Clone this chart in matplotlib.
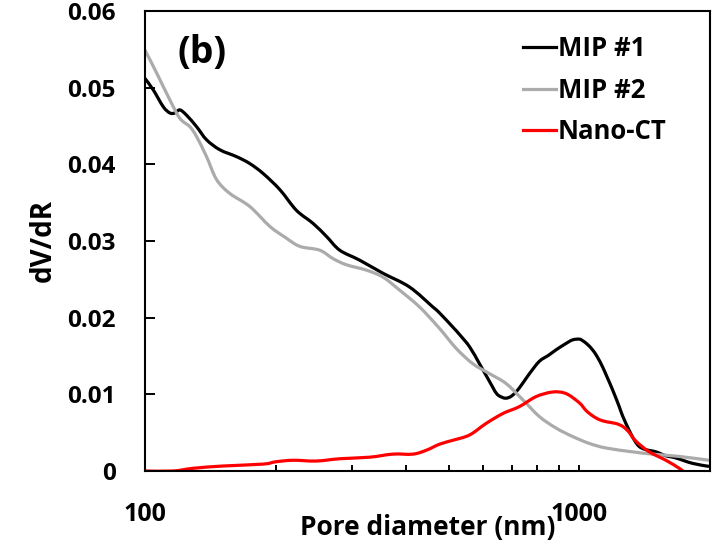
import matplotlib
matplotlib.use("Agg")
import numpy as np
import matplotlib.pyplot as plt
from matplotlib.path import Path
from matplotlib.patches import PathPatch
from matplotlib.lines import Line2D
from matplotlib.ticker import FixedLocator, NullFormatter, FixedFormatter

plt.rcParams["font.family"] = ["Open Sans", "DejaVu Sans"]
plt.rcParams["font.weight"] = "bold"

# Pore size distributions (pore diameter in nm, dV/dR)
mip1_d = [100, 104.5, 110.2, 114.1, 117.2, 120.3, 124.7, 131.5, 138.6, 148.7,
          162.5, 174.3, 187.1, 204.4, 223.2, 243.7, 261.7, 280.8, 312.1, 352.9,
          406.5, 460, 477, 511, 530, 559, 589, 621, 645, 665, 679, 695, 715,
          740, 768, 809, 850, 884, 930, 965, 1000, 1018, 1045, 1073, 1100,
          1131, 1160, 1193, 1236, 1258, 1303, 1340, 1374, 1420, 1501, 1580,
          1669, 1822, 1990]
mip1_v = [0.0512, 0.0497, 0.0475, 0.0467, 0.0467, 0.0471, 0.0464, 0.0449, 0.0432, 0.0419,
          0.0410, 0.0401, 0.0388, 0.0367, 0.0340, 0.0323, 0.0306, 0.0288, 0.0275, 0.0258,
          0.0240, 0.0214, 0.0206, 0.0188, 0.0178, 0.0162, 0.0140, 0.0117, 0.0101, 0.0096,
          0.0095, 0.0097, 0.0103, 0.0114, 0.0127, 0.0143, 0.0151, 0.0158, 0.0166, 0.0171,
          0.0172, 0.0170, 0.0165, 0.0158, 0.0149, 0.0136, 0.0122, 0.0106, 0.0084, 0.0072,
          0.0053, 0.0040, 0.0032, 0.0028, 0.0025, 0.0020, 0.0017, 0.0010, 0.0006]

mip2_d = [100, 106.4, 114.1, 120.3, 126.9, 131.5, 138.6, 146.2, 156.8, 174.3,
          193.9, 210, 227.2, 252.6, 271, 290.9, 323.4, 352.9, 385.6, 428.6,
          476.6, 520.6, 568.5, 621.2, 678.7, 741, 809.3, 884.1, 965.2, 1054,
          1152, 1326, 1474, 1699, 1990]
mip2_v = [0.0549, 0.0519, 0.0484, 0.0460, 0.0449, 0.0436, 0.0410, 0.0380, 0.0362, 0.0345,
          0.0319, 0.0305, 0.0293, 0.0288, 0.0277, 0.0269, 0.0262, 0.0253, 0.0236, 0.0214,
          0.0186, 0.0160, 0.0140, 0.0127, 0.0114, 0.0093, 0.0071, 0.0056, 0.0045, 0.0036,
          0.0030, 0.0025, 0.0022, 0.0019, 0.0014]

nct_d = [100, 116, 129, 151, 187, 200, 219, 248, 281, 329, 372, 414, 444, 477,
         511, 559, 610, 667, 728, 795, 868, 932, 1000, 1036, 1073, 1112, 1160,
         1214, 1260, 1300, 1350, 1449, 1583, 1699, 1760]
nct_v = [0.0, 0.0, 0.00035, 0.00065, 0.0009, 0.0012, 0.0014, 0.0013, 0.0016, 0.0018,
         0.0022, 0.0022, 0.0027, 0.0035, 0.0040, 0.0047, 0.0062, 0.0075, 0.0084, 0.0097,
         0.0103, 0.0101, 0.0089, 0.0079, 0.0072, 0.0067, 0.0064, 0.0062, 0.0058, 0.0051,
         0.0039, 0.0025, 0.0014, 0.00035, -0.0003]

series = [
    ("MIP #1", mip1_d, mip1_v, "#000000"),
    ("MIP #2", mip2_d, mip2_v, "#ABABAB"),
    ("Nano-CT", nct_d, nct_v, "#FF0000"),
]

y_ticks = [0, 0.01, 0.02, 0.03, 0.04, 0.05, 0.06]
y_labels = ["0", "0.01", "0.02", "0.03", "0.04", "0.05", "0.06"]
x_major = [100, 1000]
x_minor = [200, 300, 400, 500, 600, 700, 800, 900, 2000]


def smooth_path(d, v):
    """Catmull-Rom style cubic Bezier through the points, built in log-x space."""
    u = np.log10(np.asarray(d, float))
    w = np.asarray(v, float)
    pts = np.column_stack([u, w])
    ext = np.vstack([pts[0], pts, pts[-1]])
    verts = [pts[0]]
    codes = [Path.MOVETO]
    for i in range(len(pts) - 1):
        p0, p1, p2, p3 = ext[i], ext[i + 1], ext[i + 2], ext[i + 3]
        c1 = p1 + (p2 - p0) / 6.0
        c2 = p2 - (p3 - p1) / 6.0
        verts += [c1, c2, p2]
        codes += [Path.CURVE4] * 3
    verts = np.array(verts)
    verts[:, 0] = 10 ** verts[:, 0]
    return Path(verts, codes)


fig = plt.figure(figsize=(7.23, 5.42), dpi=100)
ax = fig.add_axes([145 / 723, 1 - 471 / 542, 565 / 723, 460 / 542])
ax.set_xscale("log")
ax.set_xlim(100, 2000)
ax.set_ylim(0, 0.06)

handles = []
for name, d, v, c in series:
    ax.add_patch(PathPatch(smooth_path(d, v), facecolor="none", edgecolor=c,
                           lw=2.3, joinstyle="round", capstyle="butt"))
    handles.append(Line2D([], [], color=c, lw=2.3, label=name))

ax.xaxis.set_major_locator(FixedLocator(x_major))
ax.xaxis.set_major_formatter(FixedFormatter([str(t) for t in x_major]))
ax.xaxis.set_minor_locator(FixedLocator(x_minor))
ax.xaxis.set_minor_formatter(NullFormatter())
ax.yaxis.set_major_locator(FixedLocator(y_ticks))
ax.yaxis.set_major_formatter(FixedFormatter(y_labels))

ax.tick_params(axis="y", which="major", direction="in", length=7, width=1.4,
               labelsize=17.5, pad=21, colors="black")
ax.tick_params(axis="x", which="both", direction="in", length=4.3, width=1.4,
               labelsize=18, pad=22)

for s in ax.spines.values():
    s.set_linewidth(1.5)
    s.set_color("black")

ax.set_xlabel("Pore diameter (nm)", fontsize=19, fontweight="bold")
ax.xaxis.set_label_coords(0.5, -0.093)
ax.set_ylabel("dV/dR", fontsize=20, fontweight="bold")
ax.yaxis.set_label_coords(-0.155, 0.5)

ax.text(0.058, 0.887, "(b)", transform=ax.transAxes, fontsize=27,
        fontweight="bold", va="baseline", ha="left")

ax.legend(handles=handles, loc="upper left", bbox_to_anchor=(0.669, 0.947),
          frameon=False, fontsize=18.5, handlelength=1.3, handletextpad=0.05,
          labelspacing=0.55, borderpad=0, borderaxespad=0)

fig.savefig("out.png", dpi=100)
